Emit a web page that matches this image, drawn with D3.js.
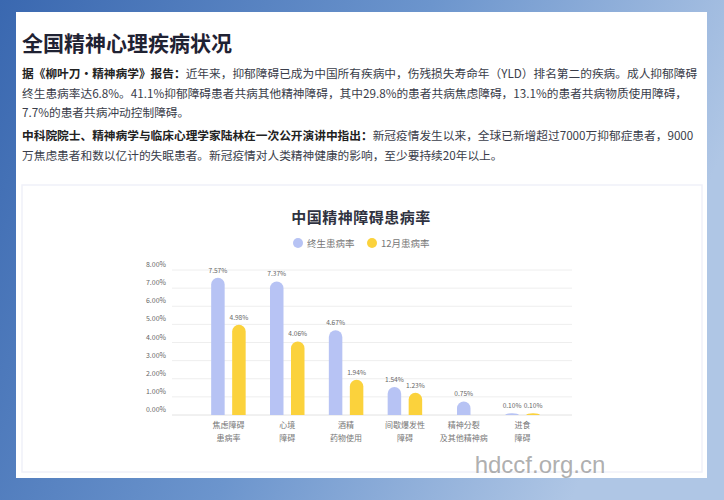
<!DOCTYPE html>
<html><head><meta charset="utf-8">
<script src="https://cdn.jsdelivr.net/npm/d3@7"></script>
<style>
html,body{margin:0;padding:0;width:724px;height:500px;overflow:hidden;}
svg{display:block;font-family:"Noto Sans CJK SC","Noto Sans",sans-serif;}
</style></head>
<body>
<svg id="c" width="724" height="500"></svg>
<script>
// ---- data ----
const categories = ["焦虑障碍|患病率", "心境|障碍", "酒精|药物使用", "间歇爆发性|障碍", "精神分裂|及其他精神病", "进食|障碍"];
const lifetimeRate = [7.57, 7.37, 4.67, 1.54, 0.75, 0.10];
const twelveMonthRate = [4.98, 4.06, 1.94, 1.23, null, 0.10];
const seriesNames = ["终生患病率", "12月患病率"];
const yTicks = [0, 1, 2, 3, 4, 5, 6, 7, 8];
const pageTitle = "全国精神心理疾病状况";
const chartTitle = "中国精神障碍患病率";
const para1 = [
  [["据《柳叶刀·精神病学》报告：", true], ["近年来，抑郁障碍已成为中国所有疾病中，伤残损失寿命年（YLD）排名第二的疾病。成人抑郁障碍", false]],
  [["终生患病率达6.8%。41.1%抑郁障碍患者共病其他精神障碍，其中29.8%的患者共病焦虑障碍，13.1%的患者共病物质使用障碍，", false]],
  [["7.7%的患者共病冲动控制障碍。", false]]
];
const para2 = [
  [["中科院院士、精神病学与临床心理学家陆林在一次公开演讲中指出：", true], ["新冠疫情发生以来，全球已新增超过7000万抑郁症患者，9000", false]],
  [["万焦虑患者和数以亿计的失眠患者。新冠疫情对人类精神健康的影响，至少要持续20年以上。", false]]
];
const watermark = "hdccf.org.cn";

const colors = ["#b7c3f4", "#fbd23c"];

const svg = d3.select("#c");
const defs = svg.append("defs");
const g = defs.append("linearGradient").attr("id", "bg").attr("x1", "0").attr("y1", "0").attr("x2", "1").attr("y2", "0.3");
g.append("stop").attr("offset", "0").attr("stop-color", "#3a68b0");
g.append("stop").attr("offset", "0.55").attr("stop-color", "#6c95cd");
g.append("stop").attr("offset", "1").attr("stop-color", "#afc6e5");

svg.append("rect").attr("width", 724).attr("height", 500).attr("fill", "url(#bg)");
// card
svg.append("rect").attr("x", 16).attr("y", 12).attr("width", 691).attr("height", 466).attr("fill", "#ffffff");
// lower panel
svg.append("rect").attr("x", 22).attr("y", 185).attr("width", 680).attr("height", 287)
  .attr("fill", "#fff").attr("stroke", "#f0f1f9").attr("stroke-width", 1.5);

// page title
svg.append("text").attr("x", 22).attr("y", 51).attr("font-size", 21).attr("font-weight", 700)
  .attr("fill", "#1f2233").text(pageTitle);

function drawPara(lines, y0) {
  lines.forEach((segs, i) => {
    const t = svg.append("text").attr("x", 22).attr("y", y0 + i * 19.5).attr("font-size", 11.7).attr("fill", "#3a3d4a");
    segs.forEach(([s, b]) => {
      t.append("tspan").attr("font-weight", b ? 700 : 400).attr("fill", b ? "#222" : "#3a3d4a").text(s);
    });
  });
}
drawPara(para1, 78);
drawPara(para2, 140);

// chart
const y = d3.scaleLinear().domain([0, 8]).range([415, 270]);
const x = d3.scaleBand().domain(categories).range([199, 552]);
const gx0 = 172, gx1 = 572;

svg.append("text").attr("x", 361).attr("y", 223).attr("text-anchor", "middle")
  .attr("font-size", 15).attr("font-weight", 700).attr("fill", "#2f3240").attr("letter-spacing", 0.5).text(chartTitle);

// legend
const leg = [[298, 307], [372, 381]];
seriesNames.forEach((n, i) => {
  svg.append("circle").attr("cx", leg[i][0]).attr("cy", 243).attr("r", 5).attr("fill", colors[i]);
  svg.append("text").attr("x", leg[i][1]).attr("y", 246.5).attr("font-size", 9.5).attr("fill", "#777").text(n);
});

// grid
const grid = svg.append("g");
yTicks.forEach(t => {
  grid.append("line").attr("x1", gx0).attr("x2", gx1).attr("y1", y(t)).attr("y2", y(t))
    .attr("stroke", t === 0 ? "#e2e2e2" : "#eeeeee").attr("stroke-width", 1);
  grid.append("text").attr("x", 166).attr("y", y(t) - 3).attr("text-anchor", "end")
    .attr("font-size", 7).attr("fill", "#666").text(t.toFixed(2) + "%");
});

function barPath(cx, w, v) {
  const top = y(v), bot = y(0), h = bot - top;
  const r = Math.min(w / 2, h);
  const x0 = cx - w / 2, x1 = cx + w / 2;
  return `M${x0},${bot}L${x0},${top + r}A${w / 2},${r} 0 0 1 ${x1},${top + r}L${x1},${bot}Z`;
}

const bw = 13.5, off = 10.5;
categories.forEach((c, i) => {
  const cx = x(c) + x.bandwidth() / 2;
  const vals = [lifetimeRate[i], twelveMonthRate[i]];
  const both = vals.every(v => v != null);
  vals.forEach((v, s) => {
    if (v == null) return;
    const bx = both ? cx + (s === 0 ? -off : off) : cx;
    svg.append("path").attr("d", barPath(bx, bw, v)).attr("fill", colors[s]);
    svg.append("text").attr("x", bx).attr("y", y(v) - 5).attr("text-anchor", "middle")
      .attr("font-size", 6.6).attr("fill", "#666").text(v.toFixed(2) + "%");
  });
  const parts = c.split("|");
  parts.forEach((p, k) => {
    svg.append("text").attr("x", cx).attr("y", 428 + k * 12.5).attr("text-anchor", "middle")
      .attr("font-size", 8).attr("fill", "#777").text(p);
  });
});

svg.append("text").attr("x", 540).attr("y", 473).attr("text-anchor", "middle")
  .attr("font-family", "Liberation Sans, Arial, sans-serif").attr("font-size", 24)
  .attr("fill", "#9a9a9a").attr("fill-opacity", 0.8).text(watermark);
</script>
</body></html>
